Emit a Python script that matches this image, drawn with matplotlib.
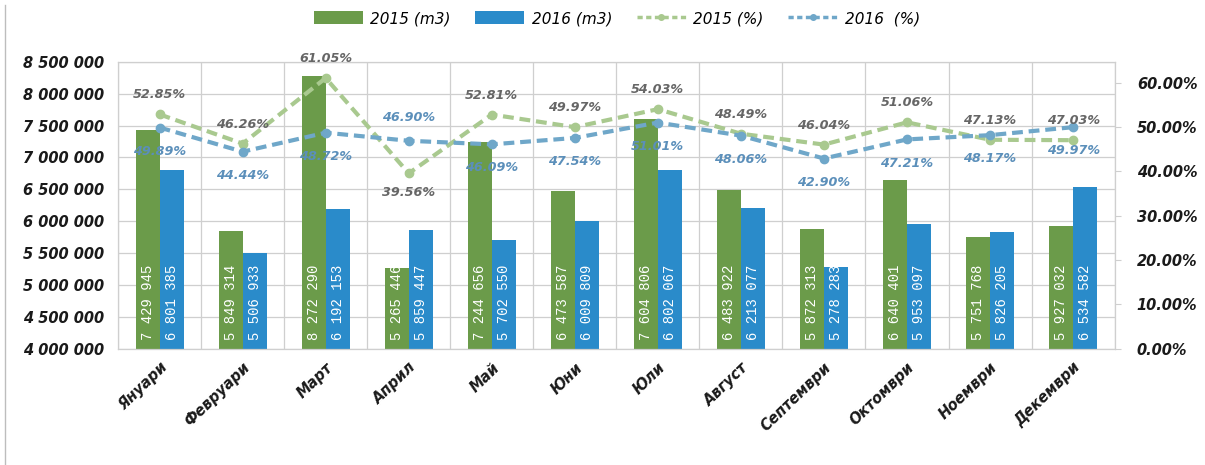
import matplotlib
matplotlib.use("Agg")
import matplotlib.pyplot as plt
from matplotlib.ticker import FuncFormatter, MultipleLocator, FixedLocator
from matplotlib.lines import Line2D
from matplotlib.patches import Patch
import numpy as np

months = ["Януари", "Февруари", "Март", "Април", "Май", "Юни", "Юли",
          "Август", "Септември", "Октомври", "Ноември", "Декември"]
vol_2015 = [7429945, 5849314, 8272290, 5265446, 7244656, 6473587, 7604806,
            6483922, 5872313, 6640401, 5751768, 5927032]
vol_2016 = [6801385, 5506933, 6192153, 5859447, 5702550, 6009809, 6802067,
            6213077, 5278283, 5953097, 5826205, 6534582]
pct_2015 = [52.85, 46.26, 61.05, 39.56, 52.81, 49.97, 54.03, 48.49, 46.04, 51.06, 47.13, 47.03]
pct_2016 = [49.89, 44.44, 48.72, 46.90, 46.09, 47.54, 51.01, 48.06, 42.90, 47.21, 48.17, 49.97]
legend_labels = ["2015 (m3)", "2016 (m3)", "2015 (%)", "2016  (%)"]

# styles
GREEN = "#6b9b4a"
BLUE = "#2a8bca"
LGREEN = "#a9c98f"
LBLUE = "#6fa7c9"
GRID = "#cfcfcf"
# label placement: +1 above the point, -1 below the point
green_side = [1, 1, 1, -1, 1, 1, 1, 1, 1, 1, 1, 1]
blue_side = [-1, -1, -1, 1, -1, -1, -1, -1, -1, -1, -1, -1]

fig = plt.figure(figsize=(12.05, 4.65), dpi=100)
ax = fig.add_axes([0.098, 0.25, 0.827, 0.617])
ax2 = ax.twinx()

x = np.arange(len(months))
w = 0.29
ax.bar(x - w / 2, vol_2015, width=w, color=GREEN, zorder=2)
ax.bar(x + w / 2, vol_2016, width=w, color=BLUE, zorder=2)

ax.set_ylim(4000000, 8500000)
ax.set_xlim(-0.5, len(months) - 0.5)
ax.yaxis.set_major_locator(MultipleLocator(500000))
ax.yaxis.set_major_formatter(FuncFormatter(lambda v, p: f"{int(v):,}".replace(",", " ")))
ax.set_xticks(x)
ax.set_xticklabels(months, rotation=44, ha="right", rotation_mode="anchor",
                   fontsize=10.5, fontweight="bold", fontstyle="italic", color="#1a1a1a")
ax.xaxis.set_minor_locator(FixedLocator(np.arange(-0.5, len(months), 1.0)))
ax.grid(axis="y", color=GRID, linewidth=0.9, zorder=0)
ax.grid(axis="x", which="minor", color=GRID, linewidth=0.9, zorder=0)
ax.tick_params(axis="x", which="both", length=0, pad=8)
ax.tick_params(axis="y", length=0, pad=10)
for lbl in ax.get_yticklabels():
    lbl.set_fontsize(10.5)
    lbl.set_fontweight("bold")
    lbl.set_fontstyle("italic")
    lbl.set_color("#1a1a1a")
ax.set_axisbelow(True)

for sp in ax.spines.values():
    sp.set_color(GRID)
    sp.set_linewidth(0.9)
for sp in ax2.spines.values():
    sp.set_visible(False)

# value labels in bars
for xi, v in zip(x - w / 2, vol_2015):
    ax.annotate(f"{v:,}".replace(",", " "), (xi, 4000000), xytext=(0, 6),
                textcoords="offset points", rotation=90, ha="center", va="bottom",
                color="white", fontsize=10, family="Liberation Mono", zorder=3)
for xi, v in zip(x + w / 2, vol_2016):
    ax.annotate(f"{v:,}".replace(",", " "), (xi, 4000000), xytext=(0, 6),
                textcoords="offset points", rotation=90, ha="center", va="bottom",
                color="white", fontsize=10, family="Liberation Mono", zorder=3)

# percentage lines
p15 = np.array(pct_2015) / 100
p16 = np.array(pct_2016) / 100
ax2.plot(x, p15, color=LGREEN, linewidth=3, linestyle=(0, (2.6, 1.4)),
         marker="o", markersize=6, zorder=4)
ax2.plot(x, p16, color=LBLUE, linewidth=3, linestyle=(0, (2.6, 1.4)),
         marker="o", markersize=6, zorder=4)
ax2.set_ylim(0, 0.647)
ax2.yaxis.set_major_locator(MultipleLocator(0.1))
ax2.yaxis.set_major_formatter(FuncFormatter(lambda v, p: f"{v*100:.2f}%"))
ax2.tick_params(axis="y", length=4, color=GRID, pad=12)
for lbl in ax2.get_yticklabels():
    lbl.set_fontsize(10.5)
    lbl.set_fontweight("bold")
    lbl.set_fontstyle("italic")
    lbl.set_color("#1a1a1a")

for xi, v, s in zip(x, p15, green_side):
    ax2.annotate(f"{v*100:.2f}%", (xi, v), xytext=(0, 14 * s), textcoords="offset points",
                 ha="center", va="center", fontsize=9.2, fontweight="bold",
                 fontstyle="italic", color="#666666", zorder=5)
for xi, v, s in zip(x, p16, blue_side):
    ax2.annotate(f"{v*100:.2f}%", (xi, v), xytext=(0, 17 * s), textcoords="offset points",
                 ha="center", va="center", fontsize=9.2, fontweight="bold",
                 fontstyle="italic", color="#5b8fba", zorder=5)

# legend
handles = [
    Patch(facecolor=GREEN, edgecolor="none"),
    Patch(facecolor=BLUE, edgecolor="none"),
    Line2D([0], [0], color=LGREEN, linewidth=2.5, linestyle=(0, (1.5, 1)), marker="o", markersize=4),
    Line2D([0], [0], color=LBLUE, linewidth=2.5, linestyle=(0, (1.5, 1)), marker="o", markersize=4),
]
fig.legend(handles, legend_labels, loc="center", bbox_to_anchor=(0.512, 0.96), ncol=4,
           frameon=False, handlelength=3.2, handleheight=0.9, columnspacing=1.6,
           handletextpad=0.5,
           prop={"family": ["Liberation Sans Narrow", "DejaVu Sans"], "style": "italic", "size": 11})

# left frame border line
fig.add_artist(Line2D([0.004, 0.004], [0.0, 0.99], transform=fig.transFigure,
                      color="#bdbdbd", linewidth=1.0))

fig.savefig("out.png", dpi=100)
